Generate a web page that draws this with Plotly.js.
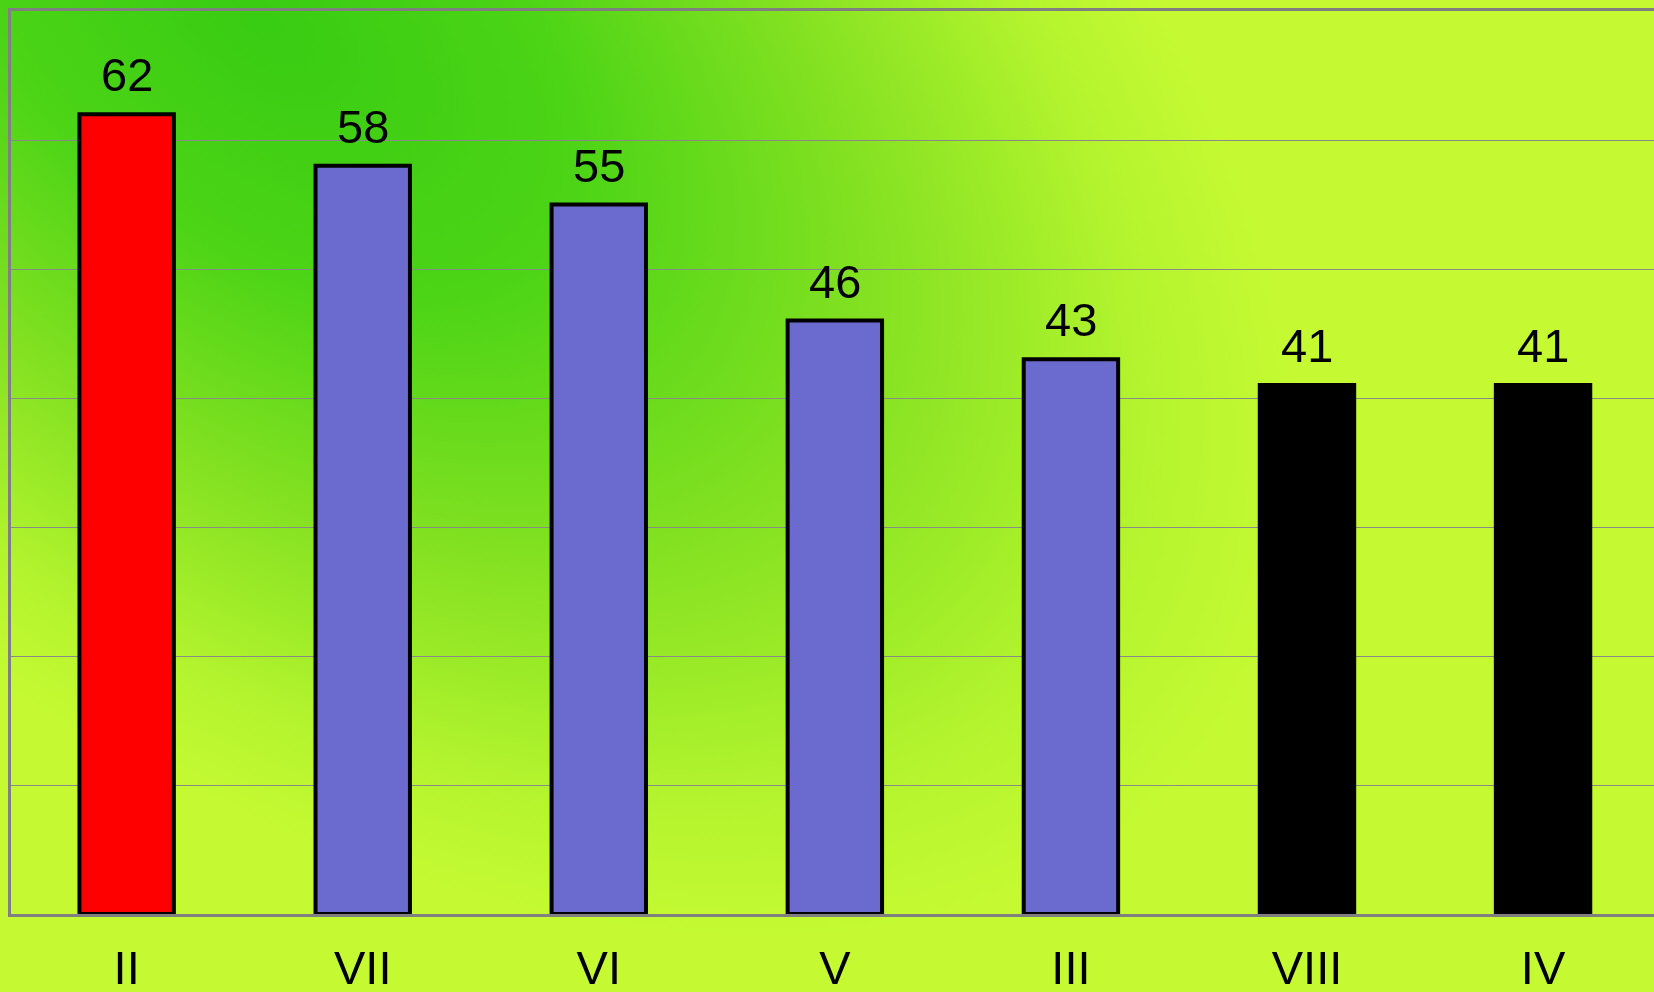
<!DOCTYPE html>
<html>
<head>
<meta charset="utf-8">
<script src="https://cdn.plot.ly/plotly-3.0.1.min.js"></script>
<style>
  html, body { margin: 0; padding: 0; width: 1654px; height: 992px; overflow: hidden; }
  #bg { position: absolute; left: 0; top: 0; }
  #chart { position: absolute; left: 0; top: 0; width: 1654px; height: 992px; }
</style>
</head>
<body>
<canvas id="bg" width="1654" height="992"></canvas>
<div id="chart"></div>
<script>
// ---- data ----
const categories = ["II", "VII", "VI", "V", "III", "VIII", "IV"];
const values = [62, 58, 55, 46, 43, 41, 41];
const barColors = ["#ff0000", "#6b6bcf", "#6b6bcf", "#6b6bcf", "#6b6bcf", "#000000", "#000000"];
const yTicks = [0, 10, 20, 30, 40, 50, 60, 70];

// ---- gradient background (decor only) ----
(function () {
  const c = document.getElementById('bg');
  const ctx = c.getContext('2d');
  ctx.fillStyle = '#c5fa32';
  ctx.fillRect(0, 0, c.width, c.height);
  ctx.save();
  ctx.translate(260, 20);
  ctx.rotate(38 * Math.PI / 180);
  ctx.scale(1.6, 0.93);
  const R = 750;
  const g = ctx.createRadialGradient(0, 0, 0, 0, 0, R);
  g.addColorStop(0.0, '#38cc12');
  g.addColorStop(0.3, '#4cd416');
  g.addColorStop(0.6, '#86e222');
  g.addColorStop(0.85, '#b4f42e');
  g.addColorStop(1.0, '#c5fa32');
  ctx.fillStyle = g;
  ctx.fillRect(-2000, -2000, 4000, 4000);
  ctx.restore();
})();

const trace = {
  type: 'bar',
  x: categories,
  y: values,
  width: 0.4,
  marker: { color: barColors, line: { color: '#000000', width: 4 } },
  hoverinfo: 'x+y'
};

const annotations = categories.map((c, i) => ({
  x: c, y: values[i], xref: 'x', yref: 'y',
  text: String(values[i]), showarrow: false,
  yanchor: 'bottom', yshift: 11,
  font: { family: '"Liberation Sans", Arial, sans-serif', size: 47, color: '#000000' }
}));

const layout = {
  width: 1654, height: 992,
  margin: { l: 11, r: 0, t: 11, b: 78, pad: 0 },
  paper_bgcolor: 'rgba(0,0,0,0)',
  plot_bgcolor: 'rgba(0,0,0,0)',
  showlegend: false,
  font: { family: '"Liberation Sans", Arial, sans-serif', color: '#000000' },
  xaxis: {
    type: 'category',
    range: [-0.49, 6.47],
    showline: true, linecolor: '#808080', linewidth: 3, mirror: true,
    showgrid: false, zeroline: false,
    ticks: 'outside', ticklen: 11, tickcolor: 'rgba(0,0,0,0)',
    tickfont: { family: '"Liberation Sans", Arial, sans-serif', size: 47, color: '#000000' }
  },
  yaxis: {
    range: [0, 70],
    tickvals: yTicks,
    showticklabels: false,
    showline: true, linecolor: '#808080', linewidth: 3, mirror: true,
    showgrid: true, gridcolor: '#8a8a8a', gridwidth: 1,
    zeroline: false, ticks: ''
  },
  annotations: annotations
};

Plotly.newPlot('chart', [trace], layout, { displayModeBar: false, staticPlot: true });
</script>
</body>
</html>
